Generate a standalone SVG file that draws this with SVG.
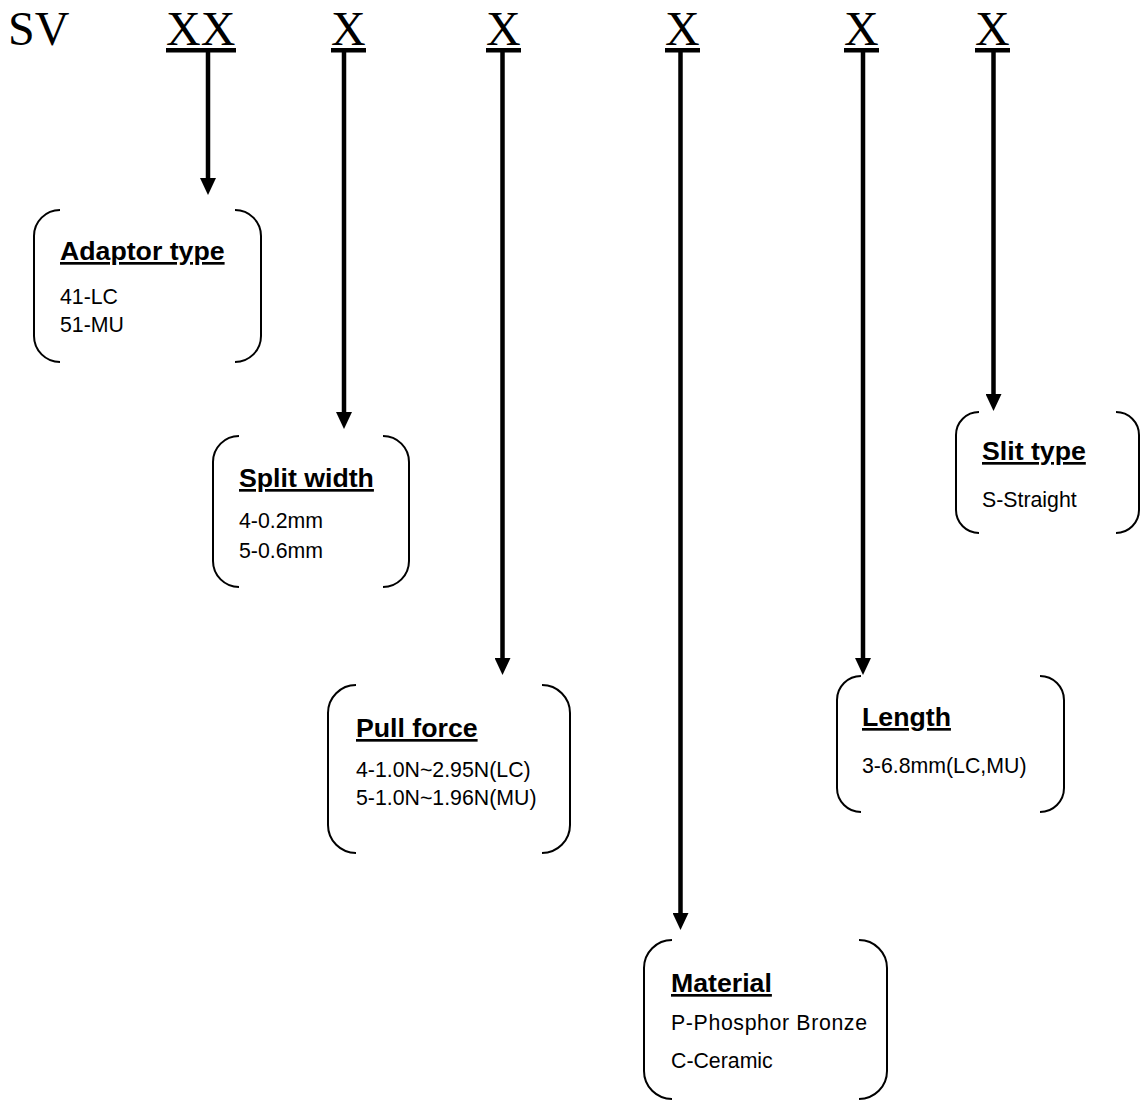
<svg xmlns="http://www.w3.org/2000/svg" width="1148" height="1104" viewBox="0 0 1148 1104">
  <style>
    .code { font-family: "Liberation Serif", "Times New Roman", serif; font-size: 48px; fill: #000; }
    .bar { fill: #000; }
    .title { font-family: "Liberation Sans", Arial, sans-serif; font-size: 26.7px; font-weight: bold; text-decoration: underline; fill: #000; }
    .item { font-family: "Liberation Sans", Arial, sans-serif; font-size: 21.3px; fill: #000; }
    .bracket { fill: none; stroke: #000; stroke-width: 2; }
    .lead { fill: none; stroke: #000; stroke-width: 4.5; }
  </style>
  <defs>
    <marker id="head" viewBox="0 0 17 16" markerWidth="17" markerHeight="16" refX="5" refY="8" orient="auto" markerUnits="userSpaceOnUse">
      <path d="M0,0 L17,8 L0,16 z" fill="#000"/>
    </marker>
  </defs>
  <rect width="1148" height="1104" fill="#fff"/>

  <!-- part number code -->
  <g id="code">
    <text class="code" x="8" y="45">SV</text>
    <text class="code" x="166" y="45">XX</text>
    <rect class="bar" x="166" y="48" width="70" height="4.5"/>
    <text class="code" x="331" y="45">X</text>
    <rect class="bar" x="331" y="48" width="35" height="4.5"/>
    <text class="code" x="486" y="45">X</text>
    <rect class="bar" x="486" y="48" width="35" height="4.5"/>
    <text class="code" x="665" y="45">X</text>
    <rect class="bar" x="665" y="48" width="35" height="4.5"/>
    <text class="code" x="844" y="45">X</text>
    <rect class="bar" x="844" y="48" width="35" height="4.5"/>
    <text class="code" x="975" y="45">X</text>
    <rect class="bar" x="975" y="48" width="35" height="4.5"/>
  </g>

  <!-- leader arrows -->
  <g id="connectors">
    <line class="lead" x1="208" y1="50" x2="208" y2="183" marker-end="url(#head)"/>
    <line class="lead" x1="344" y1="50" x2="344" y2="417" marker-end="url(#head)"/>
    <line class="lead" x1="502.5" y1="50" x2="502.5" y2="663" marker-end="url(#head)"/>
    <line class="lead" x1="680.5" y1="50" x2="680.5" y2="918" marker-end="url(#head)"/>
    <line class="lead" x1="863" y1="50" x2="863" y2="663" marker-end="url(#head)"/>
    <line class="lead" x1="993.5" y1="50" x2="993.5" y2="399" marker-end="url(#head)"/>
  </g>

  <!-- Adaptor type -->
  <g id="adaptor-type">
    <path class="bracket" d="M60,210 A26,26 0 0 0 34,236 L34,336 A26,26 0 0 0 60,362"/>
    <path class="bracket" d="M235,210 A26,26 0 0 1 261,236 L261,336 A26,26 0 0 1 235,362"/>
    <text class="title" x="60" y="260">Adaptor type</text>
    <text class="item" x="60" y="304">41-LC</text>
    <text class="item" x="60" y="332">51-MU</text>
  </g>

  <!-- Split width -->
  <g id="split-width">
    <path class="bracket" d="M239,436 A26,26 0 0 0 213,462 L213,561 A26,26 0 0 0 239,587"/>
    <path class="bracket" d="M383,436 A26,26 0 0 1 409,462 L409,561 A26,26 0 0 1 383,587"/>
    <text class="title" x="239" y="487">Split width</text>
    <text class="item" x="239" y="528">4-0.2mm</text>
    <text class="item" x="239" y="558">5-0.6mm</text>
  </g>

  <!-- Pull force -->
  <g id="pull-force">
    <path class="bracket" d="M356,685 A28,28 0 0 0 328,713 L328,825 A28,28 0 0 0 356,853"/>
    <path class="bracket" d="M542,685 A28,28 0 0 1 570,713 L570,825 A28,28 0 0 1 542,853"/>
    <text class="title" x="356" y="737">Pull force</text>
    <text class="item" x="356" y="777">4-1.0N~2.95N(LC)</text>
    <text class="item" x="356" y="805">5-1.0N~1.96N(MU)</text>
  </g>

  <!-- Material -->
  <g id="material">
    <path class="bracket" d="M672,940 A28,28 0 0 0 644,968 L644,1071 A28,28 0 0 0 672,1099"/>
    <path class="bracket" d="M859,940 A28,28 0 0 1 887,968 L887,1071 A28,28 0 0 1 859,1099"/>
    <text class="title" x="671" y="992">Material</text>
    <text class="item" x="671" y="1030" textLength="196" lengthAdjust="spacing">P-Phosphor Bronze</text>
    <text class="item" x="671" y="1068">C-Ceramic</text>
  </g>

  <!-- Length -->
  <g id="length">
    <path class="bracket" d="M861,676 A24,24 0 0 0 837,700 L837,788 A24,24 0 0 0 861,812"/>
    <path class="bracket" d="M1040,676 A24,24 0 0 1 1064,700 L1064,788 A24,24 0 0 1 1040,812"/>
    <text class="title" x="862" y="726">Length</text>
    <text class="item" x="862" y="773">3-6.8mm(LC,MU)</text>
  </g>

  <!-- Slit type -->
  <g id="slit-type">
    <path class="bracket" d="M979,412 A23,23 0 0 0 956,435 L956,510 A23,23 0 0 0 979,533"/>
    <path class="bracket" d="M1116,412 A23,23 0 0 1 1139,435 L1139,510 A23,23 0 0 1 1116,533"/>
    <text class="title" x="982" y="460">Slit type</text>
    <text class="item" x="982" y="507">S-Straight</text>
  </g>
</svg>
